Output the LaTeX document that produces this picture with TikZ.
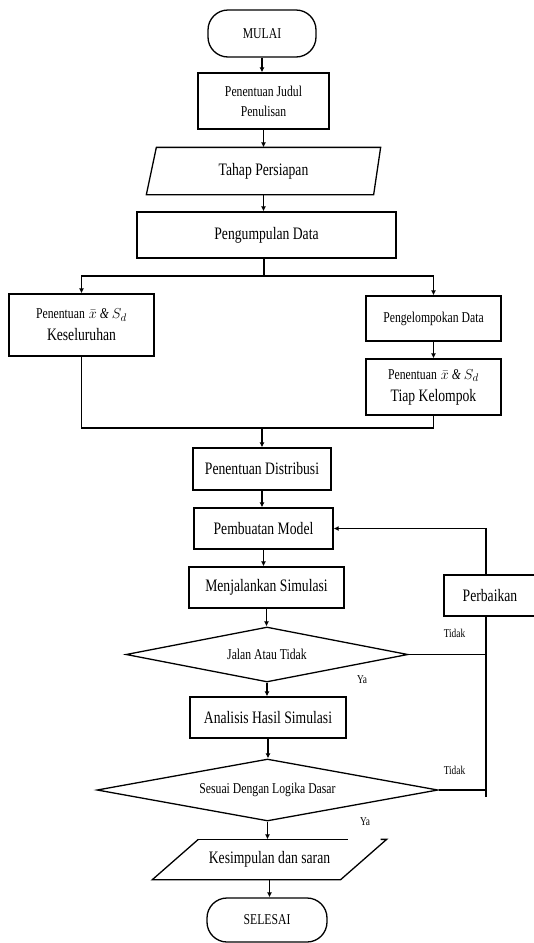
\documentclass[tikz,border=0pt]{standalone}
\usepackage{fontspec}
\setmainfont{Liberation Serif}[FakeStretch=0.78]
\usetikzlibrary{shapes.geometric,arrows.meta}

\newcommand{\bigtxt}{\fontsize{17.5}{22}\selectfont}
\newcommand{\medtxt}{\fontsize{15}{20}\selectfont}
\newcommand{\smalltxt}{\fontsize{12}{14}\selectfont}
\newcommand{\meansd}{{\medtxt Penentuan\hspace{4pt}$\bar{x}$\hspace{3pt}\textit{\&}\hspace{3pt}$S_{d}$}}

\begin{document}
\begin{tikzpicture}[x=1pt,y=-1pt,line width=1.3pt,
    box/.style={draw,rectangle,inner sep=2pt,align=center,font=\bigtxt},
    terminal/.style={draw,rectangle,rounded corners=20pt,font=\medtxt},
    decision/.style={draw,diamond,inner sep=0pt,font=\medtxt},
    datain/.style={rectangle,inner sep=0pt,font=\bigtxt},
    arr/.style={-{Latex[length=5pt,width=5pt]}},
    lbl/.style={font=\smalltxt,inner sep=0pt}]
        \useasboundingbox (0,0) rectangle (534,943);
        %% start
        \node[terminal,minimum width=108pt,minimum height=47pt] (mulai) at (262,33.5) {MULAI};
        \node[box,font=\medtxt,minimum width=131pt,minimum height=56pt] (judul) at (263.5,101) {Penentuan Judul\\Penulisan};
        \node[datain,minimum width=233pt,minimum height=46pt] (persiapan) at (263.5,171) {Tahap Persiapan};
        \draw ([xshift=10pt]persiapan.north west) -- (persiapan.north east) -- ([xshift=-7pt]persiapan.south east) -- (persiapan.south west) -- cycle;
        \node[box,minimum width=259pt,minimum height=46pt] (pengumpulan) at (266.5,235) {Pengumpulan Data};
        %% two branches
        \node[box,minimum width=145pt,minimum height=62pt] (keseluruhan) at (81.5,325) {\meansd\\Keseluruhan};
        \node[box,font=\medtxt,minimum width=135pt,minimum height=45pt] (pengelompokan) at (433.5,318.5) {Pengelompokan Data};
        \node[box,minimum width=135pt,minimum height=56pt] (tiapkel) at (433.5,387) {\meansd\\Tiap Kelompok};
        \coordinate (split) at (264,276);
        \coordinate (merge) at (262,428);
        %% simulation
        \node[box,minimum width=138pt,minimum height=42pt] (distribusi) at (262,469) {Penentuan Distribusi};
        \node[box,minimum width=139pt,minimum height=41pt] (model) at (263.5,528.5) {Pembuatan Model};
        \node[box,minimum width=155pt,minimum height=41pt] (simulasi) at (266.5,587.5) {Menjalankan Simulasi};
        \node[box,minimum width=92pt,minimum height=41pt] (perbaikan) at (490,595.5) {Perbaikan};
        \node[decision,aspect=5.1,minimum width=282pt,minimum height=55pt] (jalan) at (267,654.5) {Jalan Atau Tidak};
        \node[box,minimum width=156pt,minimum height=41pt] (analisis) at (268,717.5) {Analisis Hasil Simulasi};
        \node[decision,aspect=5.5,minimum width=341pt,minimum height=62pt] (logika) at (267.5,790) {Sesuai Dengan Logika Dasar};
        %% end
        \node[datain,minimum width=233pt,minimum height=39pt] (kesimpulan) at (269.5,859.5) {Kesimpulan dan saran};
        \draw ([xshift=46pt]kesimpulan.north west) -- ++(150,0);
        \draw ([xshift=-6pt]kesimpulan.north east) -- (kesimpulan.north east) -- ([xshift=-46pt]kesimpulan.south east) -- (kesimpulan.south west) -- ([xshift=46pt]kesimpulan.north west);
        \node[terminal,minimum width=120pt,minimum height=44pt] (selesai) at (267,920) {SELESAI};
        %% labels
        \node[lbl] (tidak1) at (454.5,633) {Tidak};
        \node[lbl] (ya1) at (362,680) {Ya};
        \node[lbl] (tidak2) at (454.5,770) {Tidak};
        \node[lbl] (ya2) at (365,822) {Ya};
        \coordinate (loopbot) at (486,797);
        %% arrows main column
        \draw[arr] (mulai.south) -- (mulai.south |- judul.north);
        \draw[arr] (judul.south) -- (judul.south |- persiapan.north);
        \draw[arr] (persiapan.south) -- (persiapan.south |- pengumpulan.north);
        \draw (pengumpulan.south -| split) -- (split);
        \draw[arr] (split) -| (keseluruhan.north);
        \draw[arr] (split) -| (pengelompokan.north);
        \draw[arr] (pengelompokan) -- (tiapkel);
        \draw (keseluruhan.south) |- (merge) -| (tiapkel.south);
        \draw[arr] (merge) -- (merge |- distribusi.north);
        \draw[arr] (distribusi.south) -- (distribusi.south |- model.north);
        \draw[arr] (model.south) -- (model.south |- simulasi.north);
        \draw[arr] (simulasi.south) -- (simulasi.south |- jalan.north);
        \draw[arr] (jalan.south) -- (jalan.south |- analisis.north);
        \draw[arr] (analisis.south) -- (analisis.south |- logika.north);
        \draw[arr] (logika.south) -- (logika.south |- kesimpulan.north);
        \draw[arr] (kesimpulan.south) -- (kesimpulan.south |- selesai.north);
        %% loop back
        \draw (jalan.east) -- (jalan.east -| loopbot);
        \draw (logika.east) -- (logika.east -| loopbot);
        \draw (loopbot) -- (loopbot |- perbaikan.south);
        \draw[arr] (loopbot |- perbaikan.north) |- (model.east);
    \end{tikzpicture}
\end{document}
